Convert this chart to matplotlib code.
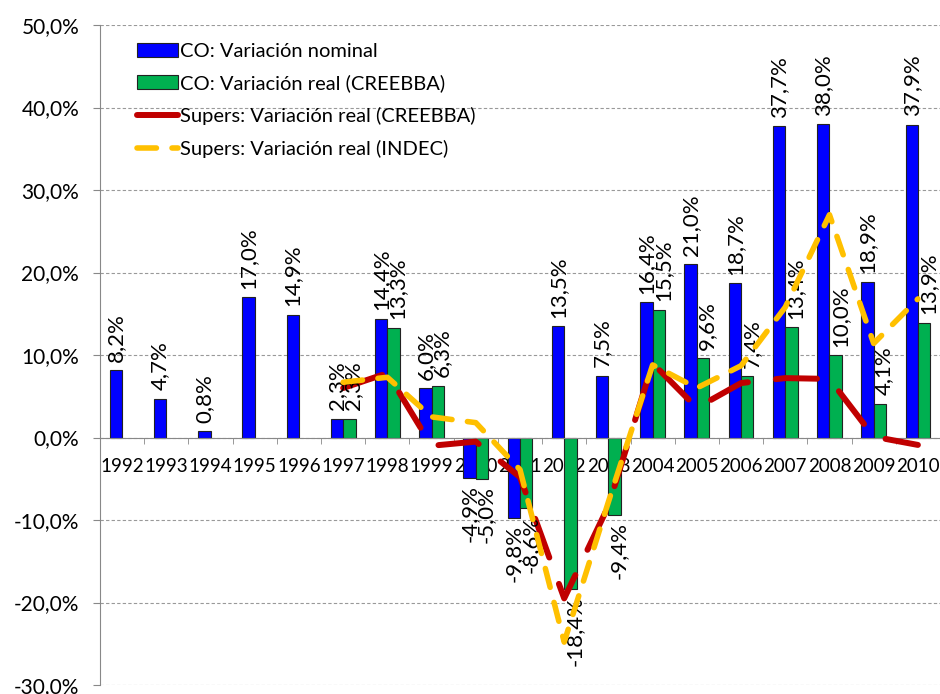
import numpy as np
import matplotlib.pyplot as plt

plt.rcParams['font.family'] = ['Lato', 'DejaVu Sans']

years = ['1992', '1993', '1994', '1995', '1996', '1997', '1998', '1999', '2000', '2001',
         '2002', '2003', '2004', '2005', '2006', '2007', '2008', '2009', '2010']
nan = np.nan
co_nominal = [8.2, 4.7, 0.8, 17.0, 14.9, 2.3, 14.4, 6.0, -4.9, -9.8,
              13.5, 7.5, 16.4, 21.0, 18.7, 37.7, 38.0, 18.9, 37.9]
co_real = [nan, nan, nan, nan, nan, 2.3, 13.3, 6.3, -5.0, -8.6,
           -18.4, -9.4, 15.5, 9.6, 7.4, 13.4, 10.0, 4.1, 13.9]
supers_creebba = [nan, nan, nan, nan, nan, 6.0, 7.8, -1.0, -0.5, -4.8,
                  -19.5, -8.3, 9.0, 3.6, 6.6, 7.2, 7.1, 0.1, -0.9]
supers_indec = [nan, nan, nan, nan, nan, 6.7, 7.3, 2.5, 1.8, -3.9,
                -24.8, -7.8, 8.8, 6.0, 8.7, 15.8, 27.0, 11.4, 16.8]

etiquetas = ['CO: Variación nominal', 'CO: Variación real (CREEBBA)',
             'Supers: Variación real (CREEBBA)', 'Supers: Variación real (INDEC)']


def formato(v):
    return ('%.1f%%' % v).replace('.', ',')


def etiqueta_barras(ax, barras, valores, dx=0):
    for b, v in zip(barras, valores):
        if np.isnan(v):
            continue
        x = b.get_x() + b.get_width() / 2
        if v >= 0:
            ax.annotate(formato(v), (x, v), xytext=(dx, 6), textcoords='offset points',
                        rotation=90, ha='center', va='bottom', fontsize=16)
        else:
            ax.annotate(formato(v), (x, v), xytext=(dx, -5), textcoords='offset points',
                        rotation=90, ha='center', va='top', fontsize=16)


fig = plt.figure(figsize=(9.4, 6.94), dpi=100)
ax = fig.add_axes([100 / 940, 1 - 685 / 694, 840 / 940, 660 / 694])

# ejes primero: set_position reinicia los ticks
ax.spines['top'].set_visible(False)
ax.spines['right'].set_visible(False)
ax.spines['bottom'].set_position(('data', 0))
ax.spines['bottom'].set_color('#888888')
ax.spines['left'].set_color('#888888')

x = np.arange(len(years))
w = 0.28
b1 = ax.bar(x - w / 2, co_nominal, w, color='#0000FF', edgecolor='#222222', linewidth=0.8,
            label=etiquetas[0], zorder=2)
b2 = ax.bar(x + w / 2, co_real, w, color='#00B050', edgecolor='#222222', linewidth=0.8,
            label=etiquetas[1], zorder=2)
l1, = ax.plot(x, supers_creebba, color='#C00000', linewidth=4.3, dashes=(6.9, 4.7),
              dash_capstyle='round', solid_capstyle='round', label=etiquetas[2], zorder=3)
l2, = ax.plot(x, supers_indec, color='#FFC000', linewidth=4.0, dashes=(3.5, 2.8),
              dash_capstyle='round', solid_capstyle='round', label=etiquetas[3], zorder=4)

etiqueta_barras(ax, b1, co_nominal)
etiqueta_barras(ax, b2, co_real, dx=3)

ax.set_xlim(-0.5, len(years) - 0.5)
ax.set_ylim(-30, 50)
ax.set_yticks(np.arange(-30, 51, 10))
ax.set_yticklabels([formato(v) for v in np.arange(-30, 51, 10)])
ax.yaxis.grid(True, color='#999999', linewidth=0.8, dashes=(3, 2))
ax.set_axisbelow(True)

ax.set_xticks(x)
ax.set_xticklabels(years)
ax.set_xticks(np.arange(-0.5, len(years), 1), minor=True)
ax.tick_params(axis='x', which='major', length=0, pad=15, labelsize=13.5)
ax.tick_params(axis='x', which='minor', length=4, color='#888888', direction='out')
ax.tick_params(axis='y', length=5, color='#888888', pad=10, labelsize=15)

ax.legend([b1, b2, l1, l2], etiquetas, loc='upper left', bbox_to_anchor=(0.035, 0.985),
          frameon=False, fontsize=14.5, handlelength=2.0, handletextpad=0.1,
          labelspacing=0.72, borderaxespad=0)

fig.savefig('out.png', dpi=100)
